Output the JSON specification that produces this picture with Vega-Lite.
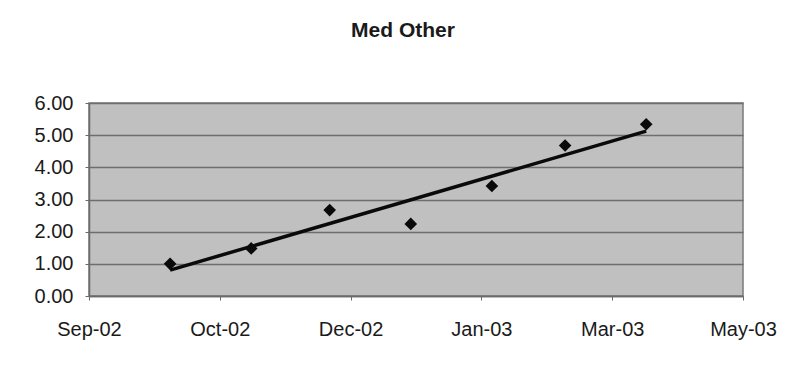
{
  "$schema": "https://vega.github.io/schema/vega-lite/v6.json",
  "autosize": {"type": "none"},
  "padding": {"left": 89, "top": 103, "right": 55, "bottom": 76},
  "width": 654,
  "height": 193,
  "background": "white",
  "title": {
    "text": "Med Other",
    "font": "Liberation Sans",
    "fontSize": 21,
    "fontWeight": "bold",
    "color": "#1a1a1a",
    "frame": "group",
    "anchor": "middle",
    "baseline": "alphabetic",
    "offset": 35,
    "dx": -13
  },
  "data": {
    "values": [
      {"date": "2002-10-02", "value": 1.00},
      {"date": "2002-11-02", "value": 1.48},
      {"date": "2002-12-02", "value": 2.67},
      {"date": "2003-01-02", "value": 2.24},
      {"date": "2003-02-02", "value": 3.42},
      {"date": "2003-03-02", "value": 4.68},
      {"date": "2003-04-02", "value": 5.34}
    ],
    "format": {"parse": {"date": "date"}}
  },
  "config": {
    "view": {"fill": "#c0c0c0", "stroke": "#7a7a7a", "strokeWidth": 1.5},
    "axis": {
      "labelFont": "Liberation Sans",
      "labelFontSize": 20,
      "labelColor": "#1a1a1a",
      "domainColor": "#6a6a6a",
      "domainWidth": 1.5,
      "tickColor": "#6a6a6a",
      "title": null
    }
  },
  "encoding": {
    "x": {
      "field": "date",
      "type": "temporal",
      "scale": {
        "type": "utc",
        "domain": [
          {"year": 2002, "month": 9, "date": 1, "utc": true},
          {"year": 2003, "month": 5, "date": 9, "utc": true}
        ],
        "nice": false
      },
      "axis": {
        "values": [
          {"year": 2002, "month": 9, "date": 1, "utc": true},
          {"year": 2002, "month": 10, "date": 21, "utc": true},
          {"year": 2002, "month": 12, "date": 10, "utc": true},
          {"year": 2003, "month": 1, "date": 29, "utc": true},
          {"year": 2003, "month": 3, "date": 20, "utc": true},
          {"year": 2003, "month": 5, "date": 9, "utc": true}
        ],
        "format": "%b-%y",
        "grid": false,
        "tickSize": 4,
        "labelPadding": 19,
        "labelFlush": false,
        "labelOverlap": false
      }
    },
    "y": {
      "field": "value",
      "type": "quantitative",
      "scale": {"domain": [0, 6], "nice": false, "zero": true},
      "axis": {
        "values": [0, 1, 2, 3, 4, 5, 6],
        "format": ".2f",
        "grid": true,
        "gridColor": "#6e6e6e",
        "gridWidth": 1.5,
        "tickSize": 4,
        "labelPadding": 12
      }
    }
  },
  "layer": [
    {
      "transform": [{"regression": "value", "on": "date"}],
      "mark": {"type": "line", "color": "#0a0a0a", "strokeWidth": 3.5}
    },
    {
      "mark": {"type": "point", "shape": "diamond", "filled": true, "color": "#0a0a0a", "size": 160, "opacity": 1}
    }
  ]
}
